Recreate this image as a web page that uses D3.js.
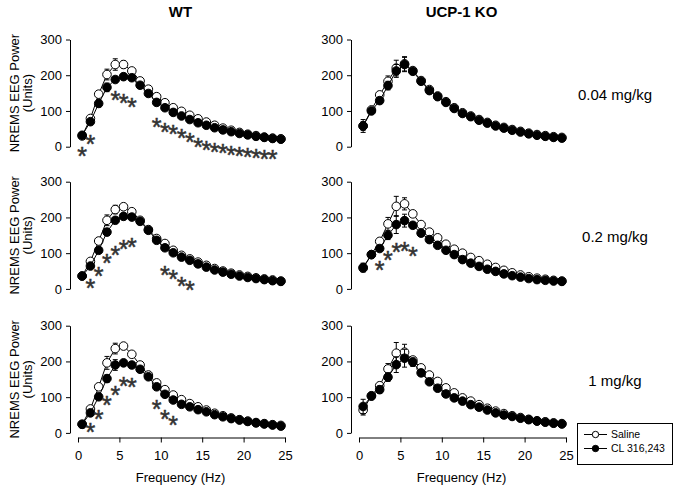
<!DOCTYPE html>
<html>
<head>
<meta charset="utf-8">
<script src="https://cdn.jsdelivr.net/npm/d3@7"></script>
<style>
  html, body { margin: 0; padding: 0; background: #fff; }
  svg text { font-family: Arial, "Liberation Sans", sans-serif; fill: #000; }
</style>
</head>
<body>
<svg id="chart" width="675" height="490"></svg>
<script>
// ---------------- DATA ----------------
const freqs = d3.range(25).map(i => 0.5 + i);          // Hz (0.5 ... 24.5)
const xTicks = [0, 5, 10, 15, 20, 25];
const yTicks = [0, 100, 200, 300];
const columnTitles = ["WT", "UCP-1 KO"];
const doseLabels = ["0.04 mg/kg", "0.2 mg/kg", "1 mg/kg"];
const seriesNames = ["Saline", "CL 316,243"];

// WT, 0.04 mg/kg
const wt004Saline = [30, 79, 147, 202, 230, 230, 212, 184, 161, 140, 123, 109, 99, 88, 78, 69, 60, 52, 46, 40, 35, 31, 27, 24, 22];
const wt004CL     = [32, 70, 121, 166, 188, 196, 193, 172, 149, 124, 109, 96, 86, 76, 67, 60, 53, 47, 42, 37, 33, 29, 26, 23, 21];
const wt004SalErr = [4, 5, 8, 15, 16, 10, 6, 4, 4, 3, 3, 3, 3, 3, 3, 3, 3, 3, 3, 3, 3, 3, 3, 3, 3];
const wt004CLErr  = [4, 5, 10, 12, 8, 6, 5, 4, 4, 3, 3, 3, 3, 3, 3, 3, 3, 3, 3, 3, 3, 3, 3, 3, 3];
const wt004Stars  = [[0, -12], [1, 22], [4, 145], [5, 135], [6, 126],
  [9, 70], [10, 56], [11, 49], [12, 37], [13, 28], [14, 14], [15, 5], [16, 0],
  [17, -5], [18, -9], [19, -12], [20, -16], [21, -18], [22, -20], [23, -20]];

// UCP-1 KO, 0.04 mg/kg
const ko004Saline = [58, 103, 145, 183, 220, 232, 213, 185, 160, 142, 126, 109, 95, 86, 76, 68, 60, 54, 48, 43, 38, 34, 31, 28, 26];
const ko004CL     = [58, 100, 129, 171, 212, 230, 211, 183, 157, 140, 124, 107, 93, 84, 74, 66, 58, 52, 46, 41, 36, 32, 29, 26, 24];
const ko004SalErr = [12, 6, 8, 15, 22, 20, 6, 4, 4, 3, 3, 3, 3, 3, 3, 3, 3, 3, 3, 3, 3, 3, 3, 3, 3];
const ko004CLErr  = [18, 6, 8, 12, 18, 20, 6, 4, 4, 3, 3, 3, 3, 3, 3, 3, 3, 3, 3, 3, 3, 3, 3, 3, 3];
const ko004Stars  = [];

// WT, 0.2 mg/kg
const wt02Saline = [36, 77, 134, 192, 222, 230, 216, 192, 166, 141, 127, 108, 94, 84, 75, 66, 57, 50, 44, 39, 35, 31, 28, 25, 22];
const wt02CL     = [36, 64, 108, 159, 192, 203, 201, 189, 164, 136, 115, 101, 89, 80, 70, 61, 53, 47, 41, 36, 32, 29, 26, 23, 21];
const wt02SalErr = [4, 5, 8, 15, 12, 8, 6, 4, 4, 3, 3, 3, 3, 3, 3, 3, 3, 3, 3, 3, 3, 3, 3, 3, 3];
const wt02CLErr  = [4, 5, 8, 10, 8, 6, 5, 4, 4, 3, 3, 3, 3, 3, 3, 3, 3, 3, 3, 3, 3, 3, 3, 3, 3];
const wt02Stars  = [[1, 16], [2, 51], [3, 87], [4, 110], [5, 127], [6, 131],
  [10, 54], [11, 42], [12, 23], [13, 11]];

// UCP-1 KO, 0.2 mg/kg
const ko02Saline = [58, 96, 133, 182, 231, 238, 210, 180, 159, 143, 125, 111, 100, 88, 79, 69, 60, 52, 45, 39, 34, 30, 27, 24, 22];
const ko02CL     = [60, 96, 113, 150, 180, 191, 178, 156, 138, 122, 108, 96, 82, 72, 63, 55, 49, 42, 37, 33, 29, 26, 24, 22, 21];
const ko02SalErr = [10, 5, 8, 18, 28, 17, 8, 4, 4, 3, 3, 3, 3, 3, 3, 3, 3, 3, 3, 3, 3, 3, 3, 3, 3];
const ko02CLErr  = [12, 5, 8, 12, 25, 18, 8, 4, 4, 3, 3, 3, 3, 3, 3, 3, 3, 3, 3, 3, 3, 3, 3, 3, 3];
const ko02Stars  = [[2, 66], [3, 96], [4, 116], [5, 119], [6, 105]];

// WT, 1 mg/kg
const wt1Saline = [24, 67, 129, 196, 236, 243, 220, 190, 162, 140, 121, 106, 93, 82, 73, 64, 55, 48, 42, 37, 33, 29, 26, 23, 21];
const wt1CL     = [24, 56, 101, 152, 190, 196, 190, 178, 157, 129, 108, 92, 80, 73, 65, 59, 51, 45, 40, 36, 32, 28, 25, 22, 19];
const wt1SalErr = [4, 6, 8, 18, 15, 8, 6, 4, 4, 3, 3, 3, 3, 3, 3, 3, 3, 3, 3, 3, 3, 3, 3, 3, 3];
const wt1CLErr  = [4, 5, 8, 10, 15, 6, 5, 4, 4, 3, 3, 3, 3, 3, 3, 3, 3, 3, 3, 3, 3, 3, 3, 3, 3];
const wt1Stars  = [[1, 17], [2, 54], [3, 92], [4, 121], [5, 146], [6, 143],
  [9, 82], [10, 54], [11, 37]];

// UCP-1 KO, 1 mg/kg
const ko1Saline = [64, 104, 132, 179, 223, 226, 204, 182, 162, 144, 126, 112, 98, 89, 79, 69, 61, 54, 48, 43, 38, 34, 31, 28, 26];
const ko1CL     = [74, 103, 121, 156, 191, 209, 198, 168, 143, 125, 109, 98, 89, 79, 72, 64, 56, 50, 46, 41, 37, 33, 30, 27, 25];
const ko1SalErr = [14, 8, 8, 15, 30, 22, 8, 4, 4, 3, 3, 3, 3, 3, 3, 3, 3, 3, 3, 3, 3, 3, 3, 3, 3];
const ko1CLErr  = [20, 10, 10, 12, 22, 25, 12, 4, 4, 3, 3, 3, 3, 3, 3, 3, 3, 3, 3, 3, 3, 3, 3, 3, 3];
const ko1Stars  = [];

// ---------------- LAYOUT ----------------
const panels = [
  {row: 0, col: 0, sal: wt004Saline, cl: wt004CL, salErr: wt004SalErr, clErr: wt004CLErr, stars: wt004Stars},
  {row: 0, col: 1, sal: ko004Saline, cl: ko004CL, salErr: ko004SalErr, clErr: ko004CLErr, stars: ko004Stars},
  {row: 1, col: 0, sal: wt02Saline, cl: wt02CL, salErr: wt02SalErr, clErr: wt02CLErr, stars: wt02Stars},
  {row: 1, col: 1, sal: ko02Saline, cl: ko02CL, salErr: ko02SalErr, clErr: ko02CLErr, stars: ko02Stars},
  {row: 2, col: 0, sal: wt1Saline, cl: wt1CL, salErr: wt1SalErr, clErr: wt1CLErr, stars: wt1Stars},
  {row: 2, col: 1, sal: ko1Saline, cl: ko1CL, salErr: ko1SalErr, clErr: ko1CLErr, stars: ko1Stars}
];

const colX0 = [78, 359];      // pixel of 0 Hz
const colYAxis = [70, 351];   // y-axis line x
const plotW = 207;
const rowTop = [39.5, 181.7, 325.7];
const plotH = 107.2;
const xAxisY = 437.5;
const R = 4.3;

const svg = d3.select("#chart");

// Titles
columnTitles.forEach((t, c) => {
  svg.append("text").attr("x", colX0[c] + plotW / 2 - 1).attr("y", 16.5)
    .attr("text-anchor", "middle").style("font-size", "15px").style("font-weight", "bold").text(t);
});

// Dose labels
doseLabels.forEach((t, r) => {
  svg.append("text").attr("x", 615).attr("y", rowTop[r] + plotH / 2 + 7)
    .attr("text-anchor", "middle").style("font-size", "15px").text(t);
});

// Y labels
rowTop.forEach((top, r) => {
  const cy = top + plotH / 2;
  const g = svg.append("g").attr("transform", `translate(0,${cy}) rotate(-90)`);
  g.append("text").attr("x", 0).attr("y", 18.5).attr("text-anchor", "middle")
    .style("font-size", "13px").text("NREMS EEG Power");
  g.append("text").attr("x", 0).attr("y", 31.5).attr("text-anchor", "middle")
    .style("font-size", "13px").text("(Units)");
});

panels.forEach(p => {
  const x = d3.scaleLinear().domain([0, 25]).range([colX0[p.col], colX0[p.col] + plotW]);
  const y = d3.scaleLinear().domain([0, 300]).range([rowTop[p.row] + plotH, rowTop[p.row]]);
  const g = svg.append("g");

  // Y axis
  const yAx = g.append("g").attr("transform", `translate(${colYAxis[p.col]},0)`)
    .call(d3.axisLeft(y).tickValues(yTicks).tickSize(4).tickSizeOuter(0).tickPadding(4));
  yAx.select(".domain").attr("stroke", "#000");
  yAx.selectAll("text").style("font-size", "13px").style("font-family", "Arial, 'Liberation Sans', sans-serif");

  // X axis (bottom row only)
  if (p.row === 2) {
    const xAx = g.append("g").attr("transform", `translate(0,${xAxisY})`)
      .call(d3.axisBottom(x).tickValues(xTicks).tickSize(5).tickSizeOuter(0).tickPadding(8));
    xAx.selectAll("text").style("font-size", "13px").style("font-family", "Arial, 'Liberation Sans', sans-serif");
  }

  const line = d3.line().x((d, i) => x(freqs[i])).y(d => y(d));

  [[p.sal, p.salErr, "#fff"], [p.cl, p.clErr, "#000"]].forEach(([vals, errs, fill]) => {
    // error bars
    const eg = g.append("g").attr("stroke", "#000").attr("stroke-width", 1);
    vals.forEach((v, i) => {
      const cx = x(freqs[i]);
      const y1 = y(v + errs[i]), y2 = y(v - errs[i]);
      eg.append("line").attr("x1", cx).attr("x2", cx).attr("y1", y1).attr("y2", y2);
      eg.append("line").attr("x1", cx - 2.5).attr("x2", cx + 2.5).attr("y1", y1).attr("y2", y1);
      eg.append("line").attr("x1", cx - 2.5).attr("x2", cx + 2.5).attr("y1", y2).attr("y2", y2);
    });
    g.append("path").datum(vals).attr("d", line).attr("fill", "none")
      .attr("stroke", "#000").attr("stroke-width", 1);
    g.append("g").selectAll("circle").data(vals).join("circle")
      .attr("cx", (d, i) => x(freqs[i])).attr("cy", d => y(d)).attr("r", R)
      .attr("fill", fill).attr("stroke", "#000").attr("stroke-width", 1);
  });

  // significance asterisks
  g.append("g").selectAll("text").data(p.stars).join("text")
    .attr("x", d => x(freqs[d[0]]))
    .attr("y", d => y(d[1]) + 14)
    .attr("text-anchor", "middle")
    .style("font-size", "25px")
    .style("fill", "#333")
    .style("stroke", "#333")
    .style("stroke-width", "0.5px")
    .text("*");
});

// Legend
const lg = svg.append("g");
lg.append("rect").attr("x", 577.5).attr("y", 423.5).attr("width", 95).attr("height", 41)
  .attr("fill", "#fff").attr("stroke", "#000").attr("stroke-width", 1);
seriesNames.forEach((name, i) => {
  const yy = 434.5 + i * 14;
  lg.append("line").attr("x1", 584).attr("x2", 607).attr("y1", yy).attr("y2", yy).attr("stroke", "#000");
  lg.append("circle").attr("cx", 595.5).attr("cy", yy).attr("r", 3.2)
    .attr("fill", i === 0 ? "#fff" : "#000").attr("stroke", "#000");
  lg.append("text").attr("x", 611).attr("y", yy + 3.8).style("font-size", "10.5px").text(name);
});

// X axis titles
[0, 1].forEach(c => {
  svg.append("text").attr("x", colX0[c] + plotW / 2 - 1).attr("y", 482)
    .attr("text-anchor", "middle").style("font-size", "13px").text("Frequency (Hz)");
});
</script>
</body>
</html>
